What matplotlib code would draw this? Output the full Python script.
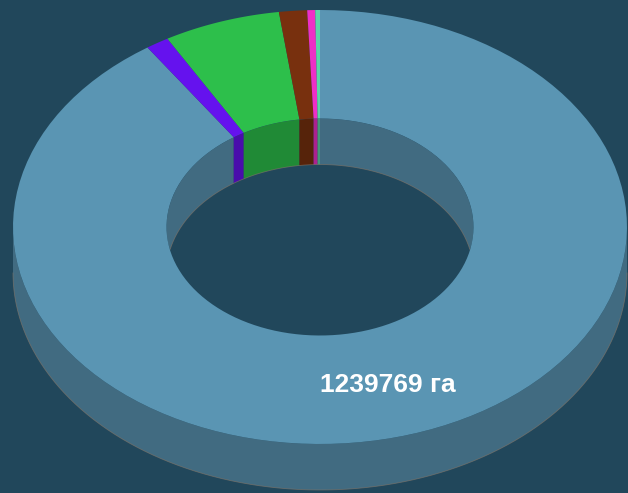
import numpy as np
import matplotlib.pyplot as plt
from matplotlib.patches import Polygon, Ellipse
from matplotlib.colors import to_rgb

# данные (по часовой стрелке от 12 часов)
values = [1239769, 16700, 84100, 20200, 5700, 3400]
colors = ['#5a95b3', '#6512ee', '#2dbf4b', '#78300e', '#ee2fc6', '#5bd6a8']
label_text = '1239769 га'

bg = '#21475b'

# геометрия (пиксели)
W, H = 628, 493
cx, cy = 320, 227
rx, ry = 307, 217
inner = 0.5
depth = 46


def darker(c, k=0.72):
    r, g, b = to_rgb(c)
    return (r * k, g * k, b * k)


def arc(t0, t1, r, dy=0, n=120):
    t = np.linspace(t0, t1, n)
    return np.column_stack([cx + r * rx * np.sin(t), cy - r * ry * np.cos(t) + dy])


fig = plt.figure(figsize=(W / 100, H / 100), dpi=100, facecolor=bg)
ax = fig.add_axes([0, 0, 1, 1])
ax.set_xlim(0, W)
ax.set_ylim(H, 0)
ax.axis('off')
ax.set_facecolor(bg)

v = np.array(values, dtype=float)
edges = np.concatenate([[0], np.cumsum(v) / v.sum() * 2 * np.pi])

# внутренняя стенка (дальняя сторона отверстия)
hole = Ellipse((cx, cy), 2 * inner * rx, 2 * inner * ry, transform=ax.transData)
for i, c in enumerate(colors):
    for lo, hi in [(-np.pi / 2, np.pi / 2), (3 * np.pi / 2, 5 * np.pi / 2)]:
        a, b = max(edges[i], lo), min(edges[i + 1], hi)
        if b <= a:
            continue
        pts = np.vstack([arc(a, b, inner), arc(b, a, inner, depth)])
        p = Polygon(pts, closed=True, fc=darker(c), ec='none')
        ax.add_patch(p)
        p.set_clip_path(hole)

# край отверстия
bot = arc(-np.pi / 2, np.pi / 2, inner, depth, 200)
inside = ((bot[:, 0] - cx) / (inner * rx)) ** 2 + ((bot[:, 1] - cy) / (inner * ry)) ** 2 <= 1
ax.plot(bot[inside, 0], bot[inside, 1], color='#8a7868', lw=0.6, alpha=0.6)

# внешняя стенка (ближняя сторона)
for i, c in enumerate(colors):
    a, b = max(edges[i], np.pi / 2), min(edges[i + 1], 3 * np.pi / 2)
    if b <= a:
        continue
    pts = np.vstack([arc(a, b, 1), arc(b, a, 1, depth)])
    ax.add_patch(Polygon(pts, closed=True, fc=darker(c), ec='none'))
low = arc(np.pi / 2, 3 * np.pi / 2, 1, depth, 200)
ax.plot(low[:, 0], low[:, 1], color='#8a7868', lw=0.6, alpha=0.6)

# верхняя грань
for i, c in enumerate(colors):
    pts = np.vstack([arc(edges[i], edges[i + 1], 1), arc(edges[i + 1], edges[i], inner)])
    ax.add_patch(Polygon(pts, closed=True, fc=c, ec='none'))

# подпись
mid = (edges[0] + edges[1]) / 2
lx, ly = arc(mid, mid, (1 + inner) / 2, n=1)[0]
ax.text(lx, ly, label_text, color='white', fontsize=19, fontweight='bold',
        family='Liberation Sans', ha='center', va='center_baseline')

fig.savefig('out.png', dpi=100, facecolor=bg)
